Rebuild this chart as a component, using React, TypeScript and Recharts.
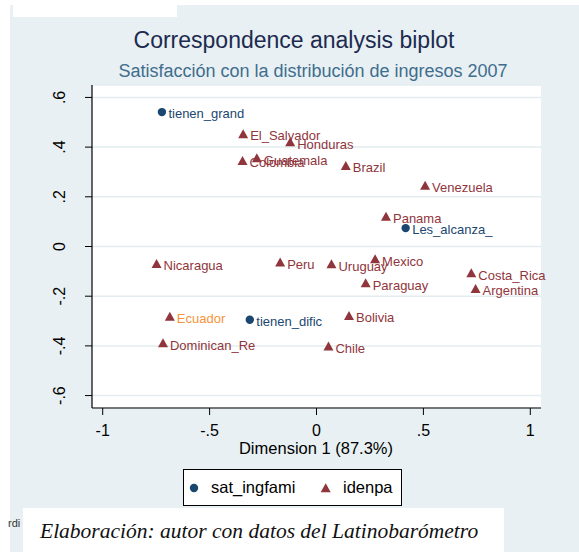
import React from "react";
import { ScatterChart, Scatter, XAxis, YAxis, CartesianGrid } from "recharts";

// row points (sat_ingfami) and column points (idenpa), dimension 1 / dimension 2
const rowNames = ["tienen_grand", "Les_alcanza_", "tienen_dific"];
const rowDim1 = [-0.723, 0.417, -0.312];
const rowDim2 = [0.541, 0.074, -0.295];

const colNames = [
  "El_Salvador", "Honduras", "Guatemala", "Colombia", "Brazil", "Venezuela",
  "Panama", "Nicaragua", "Peru", "Uruguay", "Mexico", "Costa_Rica",
  "Argentina", "Paraguay", "Bolivia", "Chile", "Ecuador", "Dominican_Re",
];
const colDim1 = [
  -0.343, -0.123, -0.279, -0.346, 0.137, 0.508, 0.325, -0.748, -0.17, 0.07,
  0.274, 0.724, 0.744, 0.23, 0.152, 0.056, -0.686, -0.718,
];
const colDim2 = [
  0.453, 0.42, 0.356, 0.345, 0.325, 0.245, 0.121, -0.07, -0.064, -0.071,
  -0.051, -0.107, -0.17, -0.147, -0.279, -0.402, -0.282, -0.389,
];

const xTicks = [-1, -0.5, 0, 0.5, 1];
const xTickLabels = ["-1", "-.5", "0", ".5", "1"];
const yTicks = [-0.6, -0.4, -0.2, 0, 0.2, 0.4, 0.6];
const yTickLabels = ["-.6", "-.4", "-.2", "0", ".2", ".4", ".6"];

const highlighted = "Ecuador";

const NAVY = "#1a476f";
const CRANBERRY = "#90353b";
const ORANGE = "#f6943a";
const PANEL = "#e8f0f3";
const SANS = "'Liberation Sans', Arial, sans-serif";

const rows = rowNames.map((name, i) => ({ name, x: rowDim1[i], y: rowDim2[i] }));
const cols = colNames.map((name, i) => ({ name, x: colDim1[i], y: colDim2[i] }));

const CircleMark = (props: any) => {
  const { cx, cy, payload } = props;
  return (
    <g>
      <circle cx={cx} cy={cy} r={4.2} fill={NAVY} />
      <text x={cx + 6.5} y={cy + 6} fontSize={13} fontFamily={SANS} fill={NAVY}>
        {payload.name}
      </text>
    </g>
  );
};

const TriangleMark = (props: any) => {
  const { cx, cy, payload } = props;
  const pts = `${cx},${cy - 4.8} ${cx - 5},${cy + 4.2} ${cx + 5},${cy + 4.2}`;
  return (
    <g>
      <polygon points={pts} fill={CRANBERRY} />
      <text
        x={cx + 7}
        y={cy + 6.5}
        fontSize={13}
        fontFamily={SANS}
        fill={payload.name === highlighted ? ORANGE : CRANBERRY}
      >
        {payload.name}
      </text>
    </g>
  );
};

const YTick = (props: any) => {
  const { x, y, index } = props;
  return (
    <text
      transform={`translate(${x - 20},${y}) rotate(-90)`}
      textAnchor="middle"
      fontSize={16}
      fontFamily={SANS}
      fill="#000"
    >
      {yTickLabels[index]}
    </text>
  );
};

export default function App() {
  return (
    <div style={{ position: "relative", width: 579, height: 552, background: "#fff", overflow: "hidden" }}>
      <style>{"body{margin:0}"}</style>
      <div style={{ position: "absolute", left: 10, top: 5, right: 0, bottom: 0, background: PANEL }} />
      <div style={{ position: "absolute", left: 13, top: 5, width: 164, height: 12, background: "#fff" }} />
      <div style={{ position: "absolute", left: 23, top: 508, width: 481, height: 44, background: "#fff" }} />

      <div style={{ position: "absolute", left: 0, top: 0 }}>
        <ScatterChart width={579} height={552} margin={{ top: 85, right: 38, bottom: 114, left: 52 }}>
          <CartesianGrid vertical={false} fill="#ffffff" stroke="#e3ecef" strokeWidth={1.5} />
          <XAxis
            type="number"
            dataKey="x"
            domain={[-1.05, 1.05]}
            ticks={xTicks}
            tickFormatter={(_v: number, i: number) => xTickLabels[i]}
            height={30}
            tickSize={7}
            tickMargin={10}
            tick={{ fill: "#000", fontSize: 16, fontFamily: SANS }}
            axisLine={{ stroke: "#000", strokeWidth: 1.2 }}
            tickLine={{ stroke: "#000" }}
          />
          <YAxis
            type="number"
            dataKey="y"
            domain={[-0.65, 0.65]}
            ticks={yTicks}
            width={40}
            tickSize={7}
            tickMargin={0}
            tick={YTick}
            axisLine={{ stroke: "#000", strokeWidth: 1.2 }}
            tickLine={{ stroke: "#000" }}
          />
          <Scatter name="idenpa" data={cols} shape={TriangleMark} isAnimationActive={false} />
          <Scatter name="sat_ingfami" data={rows} shape={CircleMark} isAnimationActive={false} />
        </ScatterChart>
      </div>

      <svg width={579} height={552} style={{ position: "absolute", left: 0, top: 0, pointerEvents: "none" }}>
        <text x={294} y={48} textAnchor="middle" fontSize={23} fontFamily={SANS} fill="#1c2b4f">
          Correspondence analysis biplot
        </text>
        <text x={313} y={77} textAnchor="middle" fontSize={18} fontFamily={SANS} fill="#3f6d8d">
          Satisfacción con la distribución de ingresos 2007
        </text>
        <text x={316} y={454} textAnchor="middle" fontSize={16.5} fontFamily={SANS} fill="#000">
          Dimension 1 (87.3%)
        </text>

        <rect x={183.5} y={469.5} width={218} height={36} fill="#fff" stroke="#000" strokeWidth={1} />
        <circle cx={194} cy={488} r={4.2} fill={NAVY} />
        <text x={211} y={493} fontSize={16.5} fontFamily={SANS} fill="#000">sat_ingfami</text>
        <polygon points="325.7,483.2 320.7,492.2 330.7,492.2" fill={CRANBERRY} />
        <text x={343} y={493} fontSize={16.5} fontFamily={SANS} fill="#000">idenpa</text>

        <text x={8} y={527} fontSize={11} fontFamily={SANS} fill="#333">rdi</text>
        <text
          x={40}
          y={538}
          fontSize={21.5}
          fontStyle="italic"
          fontFamily="'Liberation Serif', 'Times New Roman', serif"
          fill="#111"
        >
          Elaboración: autor con datos del Latinobarómetro
        </text>
      </svg>
    </div>
  );
}
